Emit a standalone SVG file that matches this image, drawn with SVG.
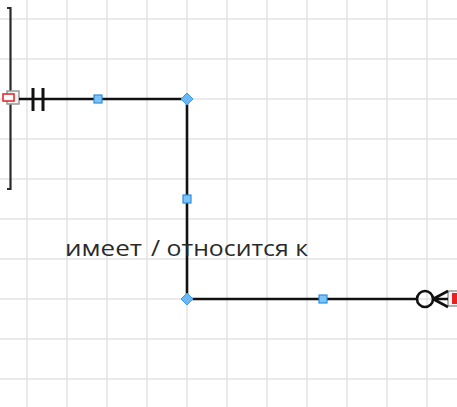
<svg xmlns="http://www.w3.org/2000/svg" width="457" height="407" viewBox="0 0 457 407">
<defs>
<style>
.grid{stroke:#e3e3e3;stroke-width:1.5}
.conn{stroke:#111;stroke-width:2.6;fill:none}
.bar{stroke:#111;stroke-width:3;fill:none}
.ent{stroke:#2a2a2a;stroke-width:2.2;fill:none}
.hs{fill:#7cc4f8;stroke:#2a8fe0;stroke-width:1.2}
.hd{fill:#6bb8f5;stroke:#3b9ae6;stroke-width:1}
.lbl{font-family:"Open Sans","DejaVu Sans",sans-serif;font-size:21px;fill:#2a2a2a}
</style>
</defs>
<rect width="457" height="407" fill="#ffffff"/>
<g id="grid">
<path class="grid" d="M27 0V407M67 0V407M107 0V407M147 0V407M187 0V407M227 0V407M267 0V407M307 0V407M347 0V407M387 0V407M427 0V407M0 19H457M0 59H457M0 99H457M0 139H457M0 179H457M0 219H457M0 259H457M0 299H457M0 339H457M0 379H457"/>
</g>
<g id="entity-left">
<path class="ent" d="M7 8H10.5V189H7"/>
<rect x="7" y="91" width="12" height="13" fill="#f4f4f4" stroke="#999" stroke-width="1.5"/>
<rect x="3" y="94" width="11" height="7" fill="#ffffff" stroke="#e02020" stroke-width="1.5"/>
</g>
<g id="entity-right">
<rect x="448" y="291" width="12" height="15" fill="#f4f4f4" stroke="#999" stroke-width="1.5"/>
<rect x="452" y="293" width="8" height="11" fill="#e82020"/>
</g>
<g id="connectors">
<path class="conn" d="M19 99H187V299H417"/>
<path class="bar" d="M33 88V111M43 88V111"/>
<circle class="conn" cx="425" cy="299" r="8"/>
<path class="conn" d="M433 299H448M433 299L448 291M433 299L448 307"/>
</g>
<g id="handles">
<rect class="hs" x="94" y="95" width="8" height="8"/>
<rect class="hs" x="183" y="195" width="8" height="8"/>
<rect class="hs" x="319" y="295" width="8" height="8"/>
<path class="hd" d="M187 93L193 99L187 105L181 99Z"/>
<path class="hd" d="M187 293L193 299L187 305L181 299Z"/>
</g>
<g id="label">
<text class="lbl" x="65" y="256" textLength="77" lengthAdjust="spacingAndGlyphs">имеет</text>
<text class="lbl" x="151" y="256" textLength="157" lengthAdjust="spacingAndGlyphs">/ относится к</text>
</g>
</svg>
